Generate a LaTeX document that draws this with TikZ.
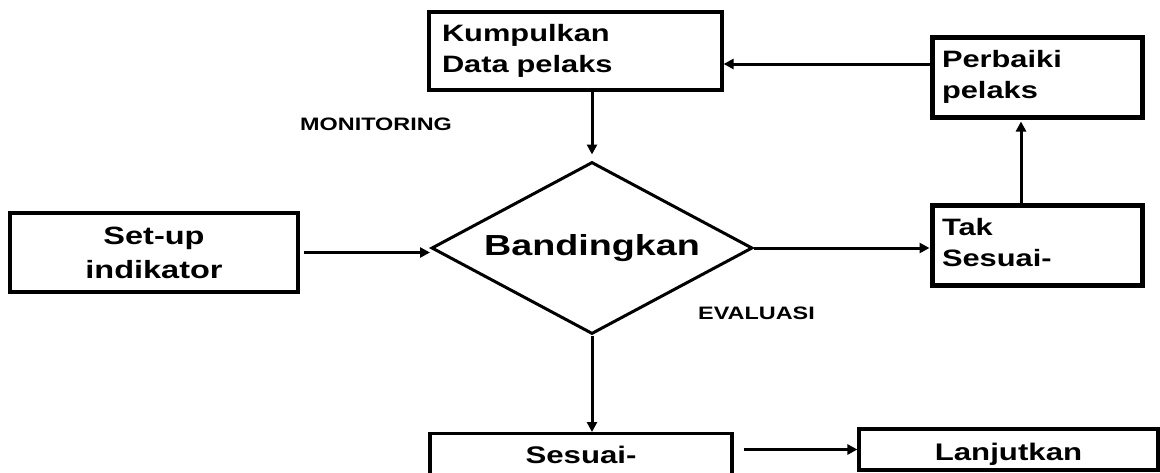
\documentclass[tikz,border=0pt]{standalone}
\usepackage{fontspec}
\newfontfamily\wf[FakeStretch=1.3]{Liberation Sans}
\usetikzlibrary{shapes.geometric,arrows.meta}
\begin{document}
\begin{tikzpicture}[x=1pt,y=-1pt,
  box/.style={draw,line width=3.2pt,rectangle,inner sep=0pt,font=\wf\bfseries\fontsize{23.7}{31}\selectfont},
  thickbox/.style={box,line width=5pt},
  lbl/.style={inner sep=0pt,font=\wf\bfseries\fontsize{18}{20}\selectfont},
  arr/.style={line width=3pt,-{Triangle[length=10pt,width=10pt]}}]
\path[use as bounding box] (0,0) rectangle (1160,472);
\fill[white] (0,0) rectangle (1160,472);
\clip (0,0) rectangle (1160,472);
% nodes
\node[box,minimum width=293,minimum height=78,align=left,text width=267] (k) at (575.5,51) {Kumpulkan\\Data pelaks};
\node[thickbox,minimum width=210,minimum height=80,align=left,text width=190] (pb) at (1037,77) {Perbaiki\\pelaks};
\node[thickbox,minimum width=210,minimum height=80,align=left,text width=190] (tk) at (1037,245) {Tak\\Sesuai-\vphantom{p}};
\node[box,minimum width=288,minimum height=79,align=center,font=\wf\bfseries\fontsize{25}{34}\selectfont] (su) at (154,252.5) {Set-up\\indikator};
\node[diamond,aspect=1.866,draw,line width=3pt,inner sep=0pt,minimum width=321,minimum height=172,font=\wf\bfseries\fontsize{29}{32}\selectfont] (bd) at (592,248) {Bandingkan};
\node[box,anchor=north,minimum width=302,text height=30,text depth=45,font=\wf\bfseries\fontsize{24}{30}\selectfont] (ss) at (581,432) {Sesuai-};
\node[box,minimum width=299,minimum height=41,text height=21,text depth=0,font=\wf\bfseries\fontsize{24}{30}\selectfont] (lj) at (1008.5,449.5) {Lanjutkan};
\node[lbl,anchor=west] (mon) at (300,124) {MONITORING};
\node[lbl,anchor=west] (ev) at (698,313) {EVALUASI};
% connectors
\coordinate (pbl) at ([yshift=13pt]pb.west);
\coordinate (tkt) at ([xshift=-16pt]tk.north);
\draw[arr,shorten >=6pt] (k.south -| bd.north) -- (bd.north);
\draw[arr] (pbl) -- (pbl -| k.east);
\draw[arr,shorten >=2pt] (tkt) -- (tkt |- pb.south);
\draw[arr,shorten <=4pt] (su.east) -- (su.east -| bd.west);
\draw[arr] (bd.east) -- (bd.east -| tk.west);
\draw[arr] (bd.south) -- (bd.south |- ss.north);
\draw[arr] ([xshift=10pt]lj.west -| ss.east) -- (lj.west);
\end{tikzpicture}
\end{document}
